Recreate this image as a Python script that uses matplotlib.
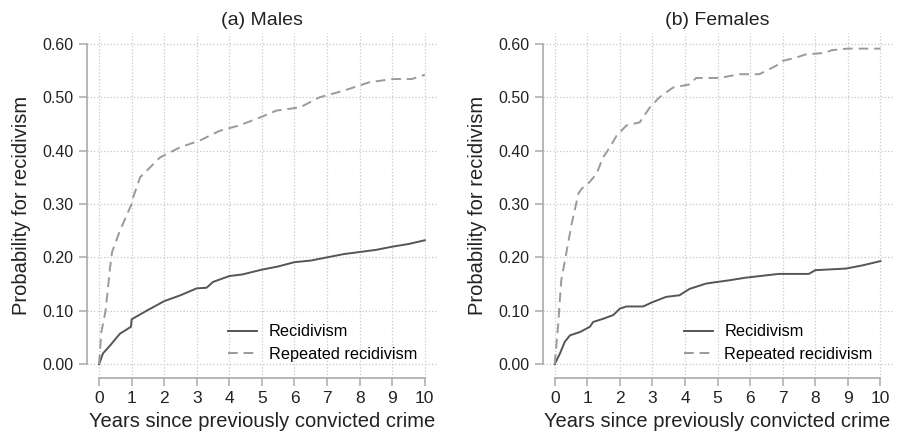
import matplotlib.pyplot as plt

plt.rcParams['font.family'] = ['Liberation Sans', 'DejaVu Sans']

# values (years, cumulative probability)
male_rec_t = [0, 0.12, 0.34, 0.64, 0.98, 1.0, 1.46, 2.0, 2.5, 3.0, 3.3, 3.5, 4.0, 4.4, 5.0, 5.5, 6.0, 6.5, 7.0, 7.5, 8.0, 8.5, 9.0, 9.5, 10]
male_rec_p = [0, 0.02, 0.035, 0.057, 0.07, 0.084, 0.10, 0.118, 0.129, 0.142, 0.143, 0.154, 0.165, 0.168, 0.177, 0.183, 0.191, 0.194, 0.200, 0.206, 0.210, 0.214, 0.220, 0.225, 0.232]

male_rep_t = [0, 0.07, 0.2, 0.34, 0.4, 0.64, 1.0, 1.05, 1.26, 1.87, 2.48, 3.1, 3.7, 4.3, 4.94, 5.45, 6.17, 6.78, 7.5, 8.3, 9.0, 9.6, 10]
male_rep_p = [0, 0.06, 0.10, 0.182, 0.21, 0.25, 0.30, 0.313, 0.35, 0.387, 0.406, 0.419, 0.437, 0.447, 0.462, 0.475, 0.481, 0.50, 0.512, 0.528, 0.534, 0.534, 0.542]

fem_rec_t = [0, 0.16, 0.31, 0.47, 0.77, 1.08, 1.18, 1.49, 1.8, 2.0, 2.2, 2.71, 3.0, 3.42, 3.83, 4.14, 4.65, 5.35, 5.87, 6.88, 7.8, 8.0, 8.94, 9.45, 10]
fem_rec_p = [0, 0.02, 0.042, 0.054, 0.06, 0.07, 0.079, 0.085, 0.092, 0.104, 0.108, 0.108, 0.116, 0.126, 0.129, 0.141, 0.151, 0.157, 0.162, 0.169, 0.169, 0.176, 0.179, 0.185, 0.193]

fem_rep_t = [0, 0.1, 0.2, 0.37, 0.52, 0.73, 0.83, 0.98, 1.28, 1.48, 1.69, 1.9, 2.2, 2.61, 2.92, 3.22, 3.63, 4.14, 4.34, 5.06, 5.67, 6.28, 6.8, 7.0, 7.4, 7.7, 8.3, 8.5, 9.0, 10]
fem_rep_p = [0, 0.07, 0.157, 0.213, 0.263, 0.32, 0.329, 0.335, 0.356, 0.387, 0.406, 0.428, 0.447, 0.453, 0.481, 0.50, 0.518, 0.524, 0.536, 0.536, 0.543, 0.543, 0.559, 0.568, 0.574, 0.58, 0.583, 0.588, 0.591, 0.591]

titles = ['(a) Males', '(b) Females']
panels = [(male_rec_t, male_rec_p, male_rep_t, male_rep_p),
          (fem_rec_t, fem_rec_p, fem_rep_t, fem_rep_p)]
lefts = [0.097, 0.605]

fig = plt.figure(figsize=(8.97, 4.36), dpi=100)
for i in range(2):
    ax = fig.add_axes([lefts[i], 0.133, 0.39, 0.791])
    rt, rp, qt, qp = panels[i]
    ax.plot(rt, rp, color='#555555', lw=1.4, label='Recidivism')
    ax.plot(qt, qp, color='#9a9a9a', lw=1.4, ls=(0, (5, 3)), label='Repeated recidivism')
    ax.set_xlim(-0.37, 10.37)
    ax.set_ylim(-0.026, 0.62)
    ax.set_xticks(range(11))
    ax.set_yticks([0, 0.1, 0.2, 0.3, 0.4, 0.5, 0.6])
    ax.set_yticklabels(['%.2f' % v for v in ax.get_yticks()])
    ax.grid(True, ls=':', color='#c8c8c8', lw=0.9)
    for s in ['top', 'right']:
        ax.spines[s].set_visible(False)
    ax.spines['left'].set_bounds(0, 0.6)
    ax.spines['bottom'].set_bounds(0, 10)
    for s in ['left', 'bottom']:
        ax.spines[s].set_color('#aaaaaa')
        ax.spines[s].set_linewidth(1.2)
    ax.tick_params(colors='#aaaaaa', labelcolor='#222222', labelsize=11.5, length=6, width=1.1)
    ax.tick_params(axis='x', labelsize=12.5)
    ax.set_title(titles[i], fontsize=14, color='#222222', pad=6)
    ax.set_xlabel('Years since previously convicted crime', fontsize=14.5, color='#222222', labelpad=4)
    ax.set_ylabel('Probability for recidivism', fontsize=14.5, color='#222222', labelpad=8)
    ax.legend(loc='lower right', frameon=False, fontsize=11.7, handlelength=1.8,
              bbox_to_anchor=(0.985, 0.005), labelspacing=0.45, handletextpad=0.7)

fig.savefig('out.png', dpi=100)
